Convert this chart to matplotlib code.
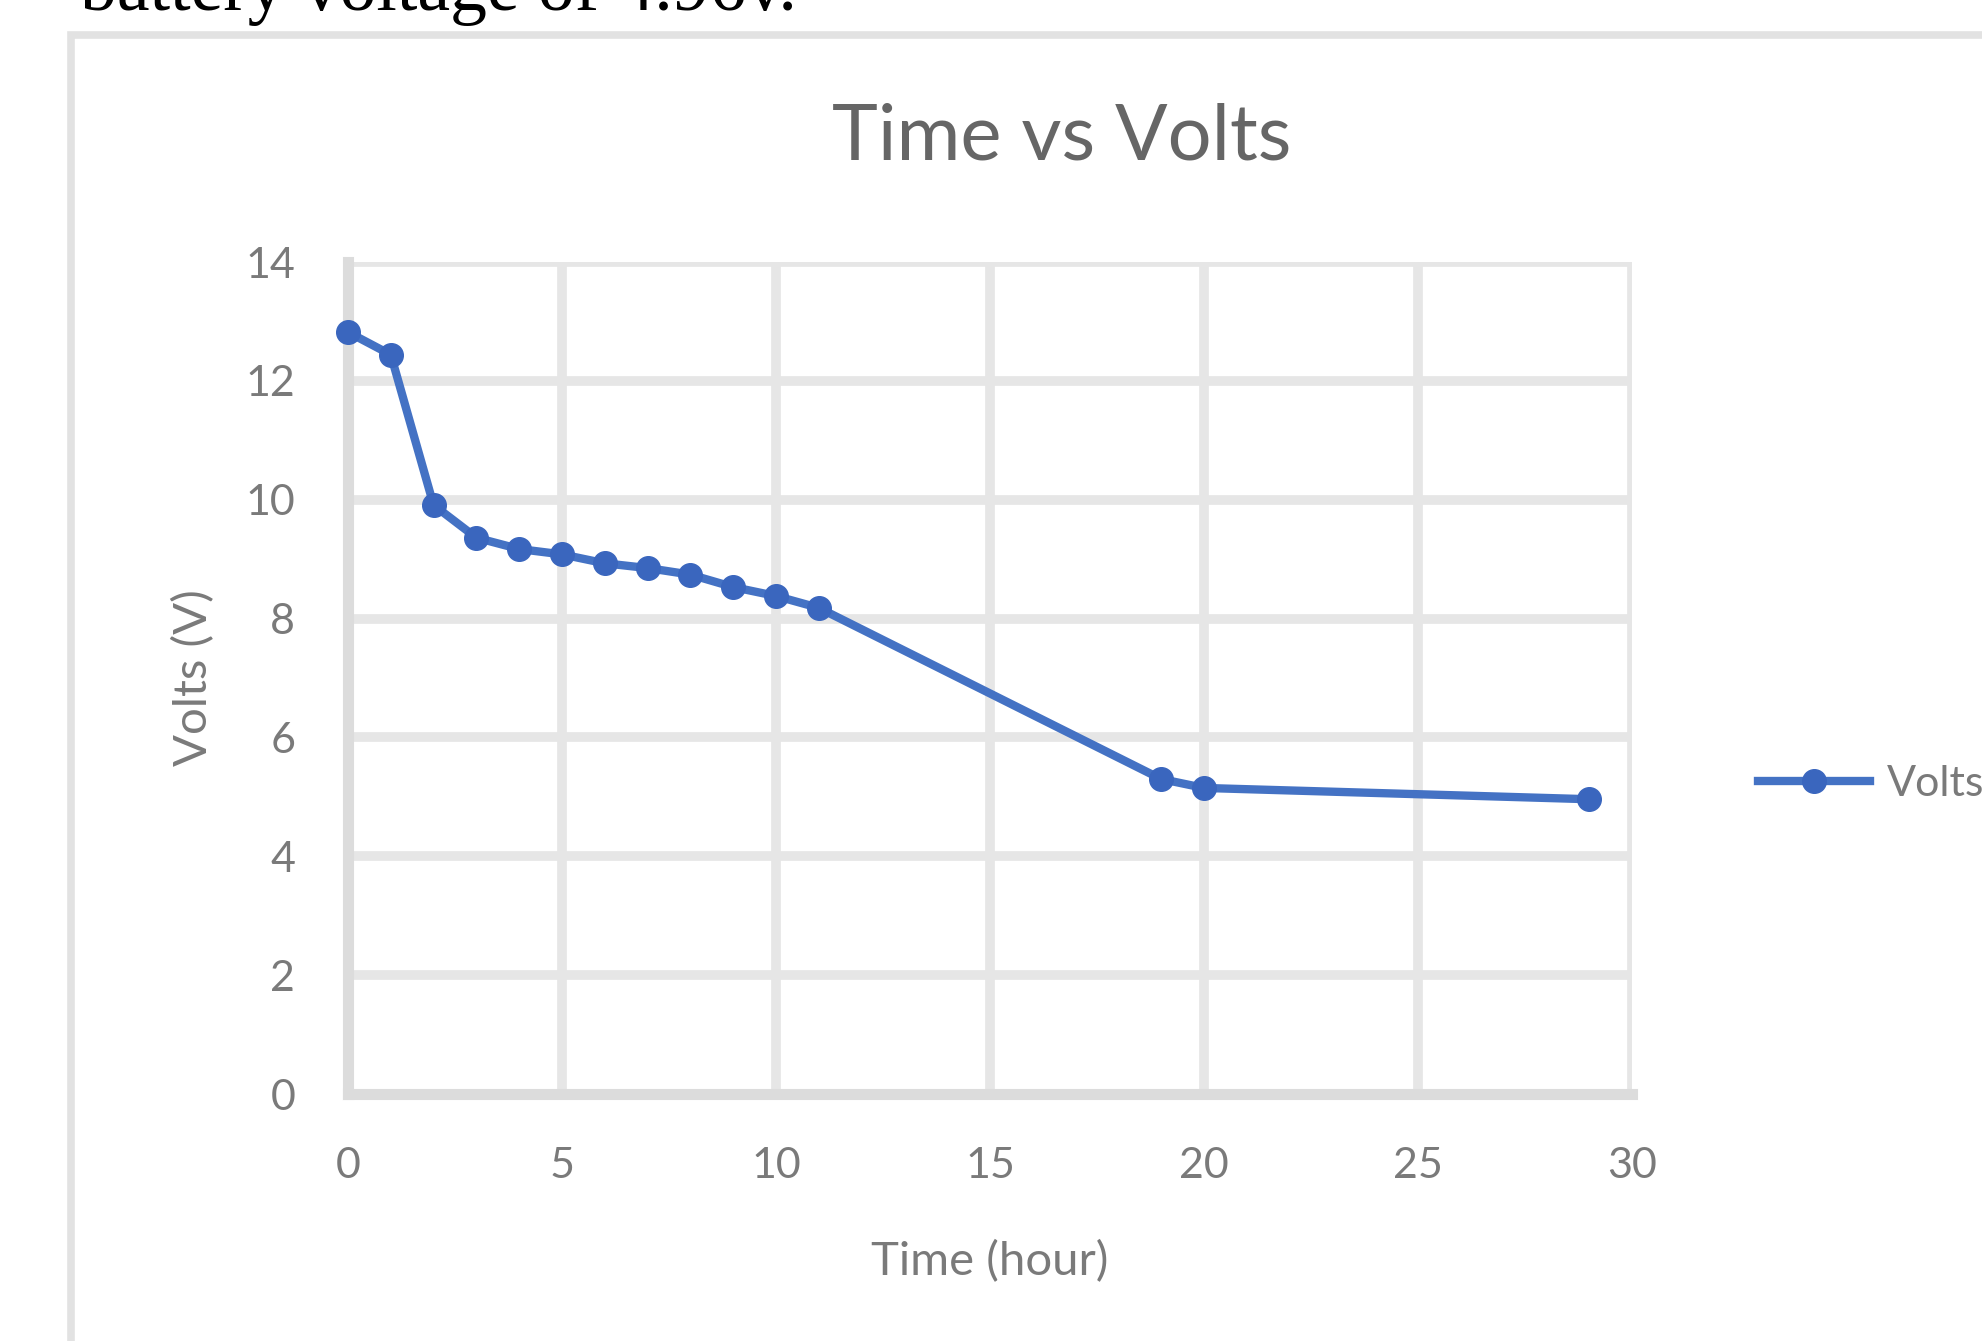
import numpy as np
import matplotlib.pyplot as plt
from matplotlib.patches import Rectangle

# data
times = [0, 1, 2, 3, 4, 5, 6, 7, 8, 9, 10, 11, 19, 20, 29]
volts = [12.82, 12.44, 9.91, 9.36, 9.17, 9.08, 8.93, 8.85, 8.74, 8.53, 8.38, 8.18, 5.30, 5.15, 4.96]
x_ticks = [0, 5, 10, 15, 20, 25, 30]
y_ticks = [0, 2, 4, 6, 8, 10, 12, 14]

W, H = 1982, 1341
fig = plt.figure(figsize=(W / 100, H / 100), dpi=100)
fig.patch.set_facecolor('white')

def fx(px):
    return px / W

def fy(py):
    return 1 - py / H

# text from the document above the chart
fig.text(fx(80), fy(10), 'battery voltage of 4.96v.', family='Liberation Serif',
         fontsize=53, color='black', ha='left', va='baseline')

# chart frame
fig.add_artist(Rectangle((fx(71), fy(1400)), fx(2100) - fx(71), fy(35) - fy(1400),
                         transform=fig.transFigure, fill=False, ec='#e2e2e2', lw=5.5))

ax = fig.add_axes([fx(348), fy(1094), fx(1632) - fx(348), fy(262) - fy(1094)])
grid_c = '#e6e6e6'
ax.plot(times, volts, color='#4472C4', lw=6, marker='o', ms=17,
        mec='#3a66be', mfc='#3a66be', label='Volts', zorder=3, clip_on=False)

ax.set_xlim(0, 30)
ax.set_ylim(0, 14)
ax.set_xticks(x_ticks)
ax.set_yticks(y_ticks)
ax.grid(True, color=grid_c, lw=7)
ax.set_axisbelow(True)
for s in ['top', 'right']:
    ax.spines[s].set_visible(False)
for s in ['left', 'bottom']:
    ax.spines[s].set_color('#dcdcdc')
    ax.spines[s].set_linewidth(8)
ax.tick_params(length=0, labelsize=31, labelcolor='#7a7a7a', pad=38)
for lab in ax.get_xticklabels() + ax.get_yticklabels():
    lab.set_family('Lato')

ax.set_title('Time vs Volts', family='Lato', fontsize=56, color='#666666', pad=74, x=0.556)
ax.set_xlabel('Time (hour)', family='Lato', fontsize=34, color='#7a7a7a', labelpad=40)
ax.set_ylabel('Volts (V)', family='Lato', fontsize=34, color='#7a7a7a', labelpad=22)

leg = ax.legend(loc='center left', bbox_to_anchor=(1.068, 0.373), frameon=False,
                fontsize=31, handlelength=2.6, handletextpad=0.4, labelcolor='#7a7a7a')
for t in leg.get_texts():
    t.set_family('Lato')

fig.savefig('out.png', dpi=100)
